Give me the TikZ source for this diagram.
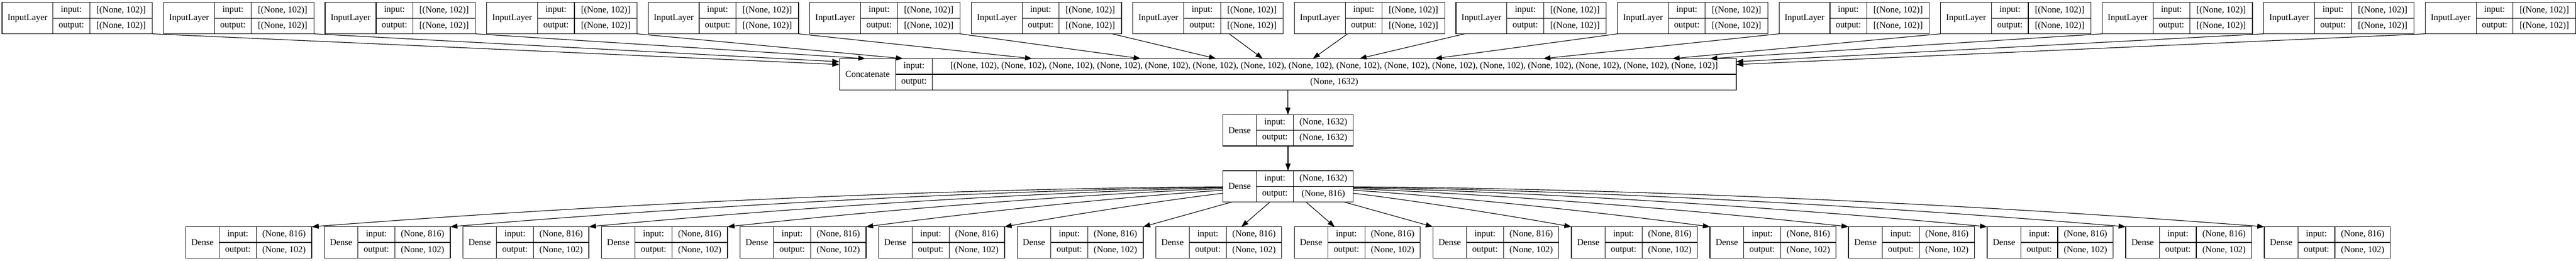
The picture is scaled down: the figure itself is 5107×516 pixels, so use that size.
\documentclass[tikz,border=0pt]{standalone}
\usepackage{fontspec}
\setmainfont{Liberation Serif}
\usepackage{tikz}
\usetikzlibrary{arrows.meta,calc,fit}
\tikzset{%
  >={Triangle[width=10pt,length=14pt]},
  % Specifications for style of nodes:
            cell/.style = {rectangle, draw=black, line width=1.2pt,
                           minimum height=31pt, inner sep=0pt, outer sep=0pt,
                           text centered, font=\fontsize{17.8pt}{21pt}\selectfont},
           layer/.style = {rectangle, inner sep=0pt, outer sep=0pt}
                           }
% one keras layer: name, x, y, widths of the three columns, label, input, output
\newcommand{\kerasbox}[9]{%
  \node (#1-l)  [cell, anchor=north west, minimum width=#4pt, minimum height=62pt] at (#2,#3) {#7};
  \node (#1-ik) [cell, anchor=north west, minimum width=#5pt] at (#1-l.north east)  {input:};
  \node (#1-iv) [cell, anchor=north west, minimum width=#6pt] at (#1-ik.north east) {#8};
  \node (#1-ok) [cell, anchor=north west, minimum width=#5pt] at (#1-ik.south west) {output:};
  \node (#1-ov) [cell, anchor=north west, minimum width=#6pt] at (#1-ok.north east) {#9};
  \node (#1)    [layer, fit=(#1-l)(#1-ov)] {};
}

\begin{document}
\begin{tikzpicture}[x=1pt, y=-1pt, line width=1.2pt]
                    \useasboundingbox (0,0) rectangle (5107,516);

                    \foreach \k [evaluate=\k as \xx using 4+(\k-1)*320.27] in {1,...,16} {
                        \kerasbox{inp\k}{\xx}{5}{101}{73}{124}{InputLayer}{[(None, 102)]}{[(None, 102)]}
                    }
                    \kerasbox{concat}{1664}{116}{112}{72}{1594}{Concatenate}%
                        {[(None, 102), (None, 102), (None, 102), (None, 102), (None, 102), (None, 102), (None, 102), (None, 102), (None, 102), (None, 102), (None, 102), (None, 102), (None, 102), (None, 102), (None, 102), (None, 102)]}%
                        {(None, 1632)}
                    \kerasbox{dense1}{2424}{227}{67}{73}{119}{Dense}{(None, 1632)}{(None, 1632)}
                    \kerasbox{dense2}{2424}{338}{67}{73}{119}{Dense}{(None, 1632)}{(None, 816)}
                    \foreach \k [evaluate=\k as \xx using 368+(\k-1)*274.73] in {1,...,16} {
                        \kerasbox{out\k}{\xx}{449}{67}{73}{110}{Dense}{(None, 816)}{(None, 102)}
                    }

                    % inputs into the concatenation
                    \foreach \k/\t in {1/0.19, 2/0.10}
                        \draw[->] (inp\k.south east) -- ($(concat.north west)!\t!(concat.south west)$);
                    \foreach \k/\t in {3/0.029, 4/0.071, 5/0.215, 6/0.336}
                        \draw[->] (inp\k.south east) -- ($(concat.north west)!\t!(concat.north east)$);
                    \foreach \k/\t in {7/0.420, 8/0.472, 9/0.528, 10/0.580}
                        \draw[->] (inp\k) -- ($(concat.north west)!\t!(concat.north east)$);
                    \foreach \k/\t in {11/0.664, 12/0.785, 13/0.929, 14/0.971}
                        \draw[->] (inp\k.south west) -- ($(concat.north west)!\t!(concat.north east)$);
                    \foreach \k/\t in {15/0.10, 16/0.19}
                        \draw[->] (inp\k.south west) -- ($(concat.north east)!\t!(concat.south east)$);

                    \draw[->]  (concat) -- (dense1);
                    \draw[->]  (dense1) -- (dense2);

                    % fan out to the outputs
                    \foreach \k in {1,...,6}
                        \draw[->] (dense2) .. controls ($(dense2)!0.33!-2:(out\k.north east)$)
                                               and ($(dense2)!0.67!-1:(out\k.north east)$) .. (out\k.north east);
                    \draw[->]  (dense2) -- (out7.north east);
                    \draw[->]  (dense2) -- ($(out8.north west)!0.68!(out8.north east)$);
                    \draw[->]  (dense2) -- ($(out9.north west)!0.32!(out9.north east)$);
                    \draw[->]  (dense2) -- (out10.north west);
                    \foreach \k in {11,...,16}
                        \draw[->] (dense2) .. controls ($(dense2)!0.33!2:(out\k.north west)$)
                                               and ($(dense2)!0.67!1:(out\k.north west)$) .. (out\k.north west);
                \end{tikzpicture}
\end{document}
